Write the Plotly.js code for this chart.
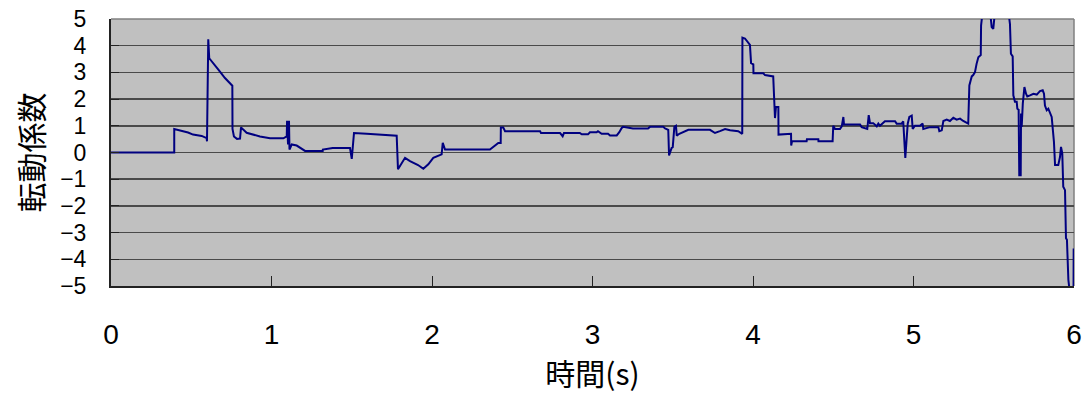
<!DOCTYPE html>
<html>
<head>
<meta charset="utf-8">
<script src="https://cdn.plot.ly/plotly-3.0.1.min.js"></script>
<style>html,body{margin:0;padding:0;background:#fff;}#chart{width:1087px;height:396px;}</style>
</head>
<body>
<div id="chart"></div>
<script>
// 時間 (s)
const timeS = [
  0, 0.394, 0.394, 0.449, 0.480, 0.511, 0.565, 0.596, 0.598, 0.606, 0.612, 0.669, 0.710, 0.756, 0.757,
  0.766, 0.785, 0.804, 0.810, 0.845, 0.887, 0.928, 0.991, 1.074, 1.095, 1.097, 1.103, 1.109, 1.112,
  1.126, 1.157, 1.178, 1.209, 1.319, 1.320, 1.381, 1.489, 1.500, 1.514, 1.593, 1.780, 1.788,
  1.832, 1.863, 1.894, 1.913, 1.946, 1.977, 2.008, 2.029, 2.060, 2.067, 2.081, 2.361, 2.372,
  2.393, 2.413, 2.428, 2.429, 2.444, 2.455, 2.673, 2.679, 2.798, 2.814, 2.822, 2.921, 2.933,
  2.972, 2.984, 3.026, 3.034, 3.057, 3.097, 3.109, 3.151, 3.167, 3.182, 3.190, 3.252, 3.346,
  3.358, 3.441, 3.452, 3.472, 3.477, 3.493, 3.500, 3.510, 3.520, 3.525, 3.541, 3.576, 3.597,
  3.732, 3.763, 3.794, 3.826, 3.857, 3.908, 3.933, 3.934, 3.950, 3.967, 3.981, 3.988, 4.002,
  4.003, 4.064, 4.075, 4.126, 4.137, 4.143, 4.158, 4.159, 4.237, 4.238, 4.243, 4.334, 4.336,
  4.407, 4.408, 4.496, 4.500, 4.511, 4.542, 4.553, 4.563, 4.567, 4.667, 4.677, 4.712, 4.721,
  4.729, 4.749, 4.771, 4.781, 4.791, 4.822, 4.885, 4.895, 4.926, 4.936, 4.949, 4.964, 4.974,
  4.989, 4.995, 5.009, 5.040, 5.057, 5.061, 5.103, 5.155, 5.161, 5.176, 5.186, 5.207, 5.227,
  5.248, 5.269, 5.290, 5.310, 5.341, 5.348, 5.356, 5.363, 5.372, 5.383, 5.393, 5.404, 5.419,
  5.421, 5.431, 5.477, 5.487, 5.497, 5.508, 5.591, 5.601, 5.607, 5.618, 5.622, 5.632, 5.643,
  5.647, 5.655, 5.659, 5.668, 5.670, 5.674, 5.681, 5.691, 5.701, 5.709, 5.726, 5.747, 5.768,
  5.788, 5.805, 5.813, 5.819, 5.830, 5.840, 5.850, 5.861, 5.875, 5.882, 5.902, 5.913, 5.919,
  5.927, 5.933, 5.944, 5.950, 5.956, 5.965, 5.975, 5.997, 5.998
];
// 転動係数
const rollCoef = [
  0, 0, 0.88, 0.80, 0.75, 0.67, 0.62, 0.54, 0.42, 4.24, 3.53, 3.10, 2.79, 2.50, 0.88,
  0.60, 0.51, 0.52, 0.94, 0.74, 0.66, 0.60, 0.53, 0.53, 0.60, 1.19, 0.30, 1.19, 0.11,
  0.30, 0.26, 0.17, 0.06, 0.06, 0.11, 0.17, 0.17, -0.24, 0.73, 0.70, 0.63, -0.63,
  -0.20, -0.32, -0.40, -0.47, -0.61, -0.44, -0.20, -0.14, -0.07, 0.36, 0.11, 0.11, 0.17,
  0.27, 0.36, 0.36, 0.94, 0.94, 0.80, 0.80, 0.73, 0.73, 0.61, 0.73, 0.73, 0.68,
  0.68, 0.76, 0.76, 0.80, 0.70, 0.70, 0.64, 0.64, 0.76, 0.92, 0.96, 0.90, 0.90,
  0.96, 0.96, 0.90, 0.85, -0.11, 0.17, 0.20, 0.96, 1.00, 0.63, 0.70, 0.80, 0.85,
  0.85, 0.73, 0.80, 0.88, 0.83, 0.80, 0.70, 4.30, 4.27, 4.15, 4.03, 3.35, 3.30,
  2.97, 2.97, 2.90, 2.85, 1.29, 1.70, 1.70, 0.67, 0.70, 0.26, 0.42, 0.42, 0.50,
  0.50, 0.42, 0.42, 1.00, 0.88, 0.88, 0.98, 1.33, 1.05, 1.05, 0.95, 0.88, 1.40,
  1.10, 1.10, 0.98, 1.08, 1.00, 1.17, 1.17, 1.08, 1.08, 1.17, -0.20, 1.08, 1.33,
  1.38, 0.88, 1.00, 1.00, 1.08, 0.88, 0.95, 0.95, 0.80, 0.83, 1.18, 1.23, 1.18,
  1.30, 1.23, 1.27, 1.18, 1.08, 2.51, 2.70, 2.85, 2.90, 3.01, 3.32, 3.57, 3.65,
  4.75, 5.30, 5.30, 4.70, 4.63, 5.30, 5.30, 4.81, 3.70, 3.60, 2.14, 1.90, 1.90,
  1.64, 1.60, -0.85, -0.85, 1.46, 0.96, 1.83, 2.45, 2.20, 2.10, 2.14, 2.20, 2.17,
  2.30, 2.33, 2.20, 1.76, 1.58, 1.64, 1.46, 1.33, 0.40, -0.47, -0.47, -0.16, 0.21,
  -0.03, -1.28, -1.41, -3.21, -3.27, -4.77, -5.30, -5.30, -3.60
];
const xTicks = [0, 1, 2, 3, 4, 5, 6];
const yTicks = [-5, -4, -3, -2, -1, 0, 1, 2, 3, 4, 5];

const latin = '"Liberation Sans", "Noto Sans", sans-serif';
const jp = '"Noto Sans CJK JP", "Noto Sans CJK SC", sans-serif';

const trace = {
  x: timeS, y: rollCoef, type: 'scatter', mode: 'lines',
  line: {color: '#000080', width: 2}, hoverinfo: 'skip'
};

const layout = {
  width: 1087, height: 396,
  margin: {l: 111, r: 13, t: 19, b: 110, pad: 0},
  paper_bgcolor: '#ffffff', plot_bgcolor: '#c0c0c0',
  showlegend: false,
  xaxis: {
    range: [0, 6], tickvals: xTicks, ticktext: xTicks.map(String),
    showgrid: false, zeroline: false,
    showline: true, linecolor: '#222', linewidth: 2,
    ticks: 'inside', ticklen: 10, tickcolor: '#222', tickwidth: 1,
    ticklabelstandoff: 22,
    tickfont: {family: latin, size: 28, color: '#000'},
    title: {text: '時間(s)', font: {family: jp, size: 30, color: '#000'}, standoff: 8},
    fixedrange: true
  },
  yaxis: {
    range: [-5, 5], tickvals: yTicks, ticktext: yTicks.map(v => v < 0 ? '\u2212' + Math.abs(v) : String(v)),
    showgrid: true, gridcolor: '#4a4a4a', gridwidth: 1.5, zeroline: false,
    showline: true, linecolor: '#222', linewidth: 2,
    ticks: 'inside', ticklen: 8, tickcolor: '#222', tickwidth: 1,
    ticklabelstandoff: 18,
    tickfont: {family: latin, size: 23, color: '#000'},
    title: {text: '転動係数', font: {family: jp, size: 30, color: '#000'}, standoff: 8},
    fixedrange: true
  },
  shapes: [
    {type: 'line', xref: 'paper', yref: 'paper', x0: 0, x1: 1, y0: 1, y1: 1, line: {color: '#808080', width: 1.5}, layer: 'below'},
    {type: 'line', xref: 'paper', yref: 'paper', x0: 1, x1: 1, y0: 0, y1: 1, line: {color: '#808080', width: 1.5}, layer: 'below'}
  ]
};

Plotly.newPlot('chart', [trace], layout, {displayModeBar: false, staticPlot: true});
</script>
</body>
</html>
